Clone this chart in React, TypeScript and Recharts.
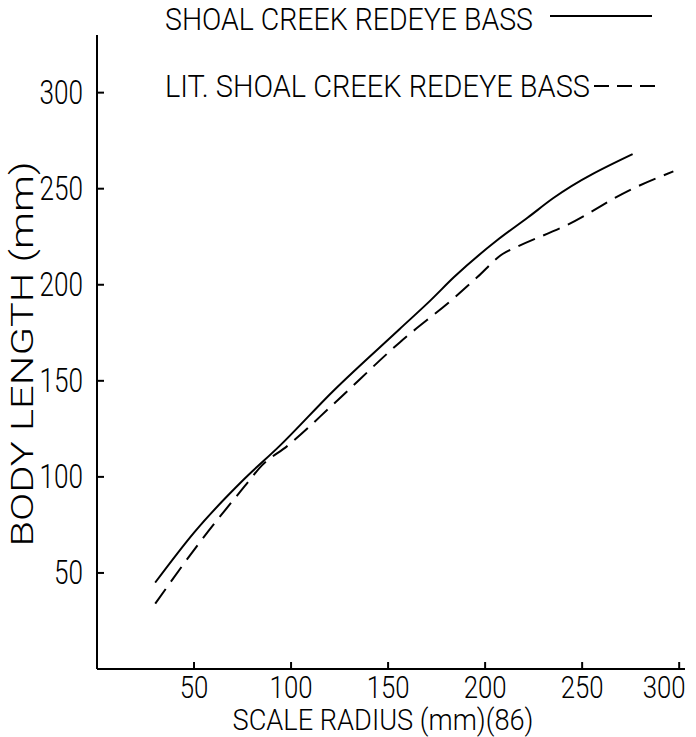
import React from "react";
import { LineChart, Line, XAxis, YAxis, Legend } from "recharts";

// values
const xTicks = [50, 100, 150, 200, 250, 300];
const yTicks = [50, 100, 150, 200, 250, 300];

const shoalRadius = [30, 50, 76, 94, 122, 156, 172, 184, 206, 222, 235, 276];
const shoalLength = [45, 71, 99, 116, 145, 177, 192, 204, 223, 235, 245, 268];

const litRadius = [30, 53, 76, 85, 98, 122, 156, 185, 196, 209, 217, 242, 276, 297];
const litLength = [34, 66, 95, 106, 116, 138, 170, 194, 204, 216, 220, 231, 250, 259];

const SHOAL = "SHOAL CREEK REDEYE BASS";
const LIT = "LIT. SHOAL CREEK REDEYE BASS";

const shoalData = shoalRadius.map((r, i) => ({ radius: r, length: shoalLength[i] }));
const litData = litRadius.map((r, i) => ({ radius: r, length: litLength[i] }));

const FONT = 'Roboto, "Liberation Sans", Arial, sans-serif';
const WEIGHT = 300;
const TICK = 7;

// tick marks point into the plot, so tick x/y sits TICK px inside the axis line
function YTick({ x, y, payload }: any) {
  const s = String(payload.value);
  return (
    <text
      x={x - TICK - 14}
      y={y + 11}
      textAnchor="end"
      fontSize={33}
      fontFamily={FONT}
      fontWeight={WEIGHT}
      fill="#000"
      textLength={s.length * 14.5}
      lengthAdjust="spacingAndGlyphs"
    >
      {s}
    </text>
  );
}

function XTick({ x, y, payload }: any) {
  const s = String(payload.value);
  // last label sits left of its tick in the original
  const shift = payload.value === 300 ? -15 : 0;
  return (
    <text
      x={x + shift}
      y={y + TICK + 29}
      textAnchor="middle"
      fontSize={32}
      fontFamily={FONT}
      fontWeight={WEIGHT}
      fill="#000"
      textLength={s.length * 14.3}
      lengthAdjust="spacingAndGlyphs"
    >
      {s}
    </text>
  );
}

function XLabel({ viewBox }: any) {
  const cx = viewBox.x + viewBox.width / 2 - 8;
  return (
    <text
      x={cx}
      y={viewBox.y + 61}
      textAnchor="middle"
      fontSize={29}
      fontFamily={FONT}
      fontWeight={WEIGHT}
      fill="#000"
      textLength={301}
      lengthAdjust="spacingAndGlyphs"
    >
      SCALE RADIUS (mm)(86)
    </text>
  );
}

function YLabel({ viewBox }: any) {
  const tx = 33;
  const ty = viewBox.y + viewBox.height / 2 + 2;
  return (
    <text
      x={tx}
      y={ty}
      transform={`rotate(-90 ${tx} ${ty})`}
      textAnchor="middle"
      fontSize={31}
      fontFamily={FONT}
      fontWeight={WEIGHT}
      fill="#000"
      textLength={385}
      lengthAdjust="spacingAndGlyphs"
    >
      BODY LENGTH (mm)
    </text>
  );
}

function LegendBox({ payload }: any) {
  const items = payload || [];
  const find = (name: string) => items.find((p: any) => p.value === name);
  const a = find(SHOAL);
  const b = find(LIT);
  return (
    <svg width={696} height={110}>
      {a && (
        <g>
          <text x={165} y={30} fontSize={31} fontFamily={FONT} fontWeight={WEIGHT} fill="#000" textLength={368} lengthAdjust="spacingAndGlyphs">
            {a.value}
          </text>
          <line x1={550} x2={652} y1={16} y2={16} stroke={a.color} strokeWidth={2} />
        </g>
      )}
      {b && (
        <g>
          <text x={165} y={97} fontSize={31} fontFamily={FONT} fontWeight={WEIGHT} fill="#000" textLength={425} lengthAdjust="spacingAndGlyphs">
            {b.value}
          </text>
          <line x1={594} x2={655} y1={86} y2={86} stroke={b.color} strokeWidth={2} strokeDasharray="15 8" />
        </g>
      )}
    </svg>
  );
}

export default function App() {
  return (
    <div style={{ position: "absolute", left: 0, top: 0, width: 696, height: 737, background: "#fff" }}>
      <LineChart width={696} height={737} margin={{ top: 35, right: 11, bottom: 0, left: 0 }}>
        <XAxis
          type="number"
          dataKey="radius"
          domain={[0, 303]}
          ticks={xTicks}
          allowDuplicatedCategory={false}
          height={68}
          tickSize={-TICK}
          tickMargin={0}
          tickLine={{ stroke: "#000", strokeWidth: 2 }}
          axisLine={{ stroke: "#000", strokeWidth: 2 }}
          tick={<XTick />}
          label={{ content: <XLabel /> }}
        />
        <YAxis
          type="number"
          dataKey="length"
          domain={[0, 330]}
          ticks={yTicks}
          width={97}
          tickSize={-TICK}
          tickMargin={0}
          tickLine={{ stroke: "#000", strokeWidth: 2 }}
          axisLine={{ stroke: "#000", strokeWidth: 2 }}
          tick={<YTick />}
          label={{ content: <YLabel /> }}
        />
        <Legend
          layout="horizontal"
          align="center"
          verticalAlign="middle"
          wrapperStyle={{ position: "absolute", left: 0, top: 0, width: 696, height: 110 }}
          content={<LegendBox />}
        />
        <Line
          data={shoalData}
          dataKey="length"
          name={SHOAL}
          type="monotone"
          stroke="#000"
          strokeWidth={2}
          dot={false}
          activeDot={false}
          isAnimationActive={false}
        />
        <Line
          data={litData}
          dataKey="length"
          name={LIT}
          type="monotone"
          stroke="#000"
          strokeWidth={2}
          strokeDasharray="18 9"
          dot={false}
          activeDot={false}
          isAnimationActive={false}
        />
      </LineChart>
    </div>
  );
}
